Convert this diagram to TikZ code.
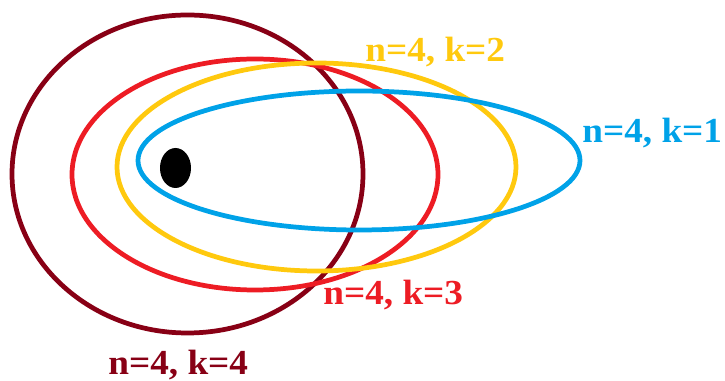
\documentclass[tikz,border=0pt]{standalone}
\usepackage{fontspec}
\setmainfont{Liberation Serif}
\usepackage{tikz}
\definecolor{darkred}{RGB}{136,0,21}
\definecolor{paintred}{RGB}{237,28,36}
\definecolor{paintgold}{RGB}{255,201,14}
\definecolor{paintblue}{RGB}{0,162,232}
\begin{document}
\begin{tikzpicture}[x=0.02cm,y=-0.02cm,
  orbit/.style={line width=2.7pt},
  lbl/.style={anchor=base west,inner sep=0pt,font=\bfseries\fontsize{20}{22}\selectfont}]
 \useasboundingbox (0,0) rectangle (725,381);
 % orbits, largest k first
 \foreach \cx/\cy/\rx/\ry/\col in {187.5/174/175.5/159/darkred,255/174.5/183/115.5/paintred,
   316.5/167/199.5/104/paintgold,359/160.5/221/69.5/paintblue}
  \draw[orbit,\col] (\cx,\cy) ellipse ({\rx} and {\ry});
 \fill[black] (175.5,168) ellipse (15.5 and 20);
 \node[lbl,text=paintgold] (k2) at (365,62) {\scalebox{1.06}[1]{n=4, k=2}};
 \node[lbl,text=paintblue] (k1) at (582,143) {\scalebox{1.06}[1]{n=4, k=1}};
 \node[lbl,text=paintred] (k3) at (323,305) {\scalebox{1.06}[1]{n=4, k=3}};
 \node[lbl,text=darkred] (k4) at (108,375) {\scalebox{1.06}[1]{n=4, k=4}};
\end{tikzpicture}
\end{document}
